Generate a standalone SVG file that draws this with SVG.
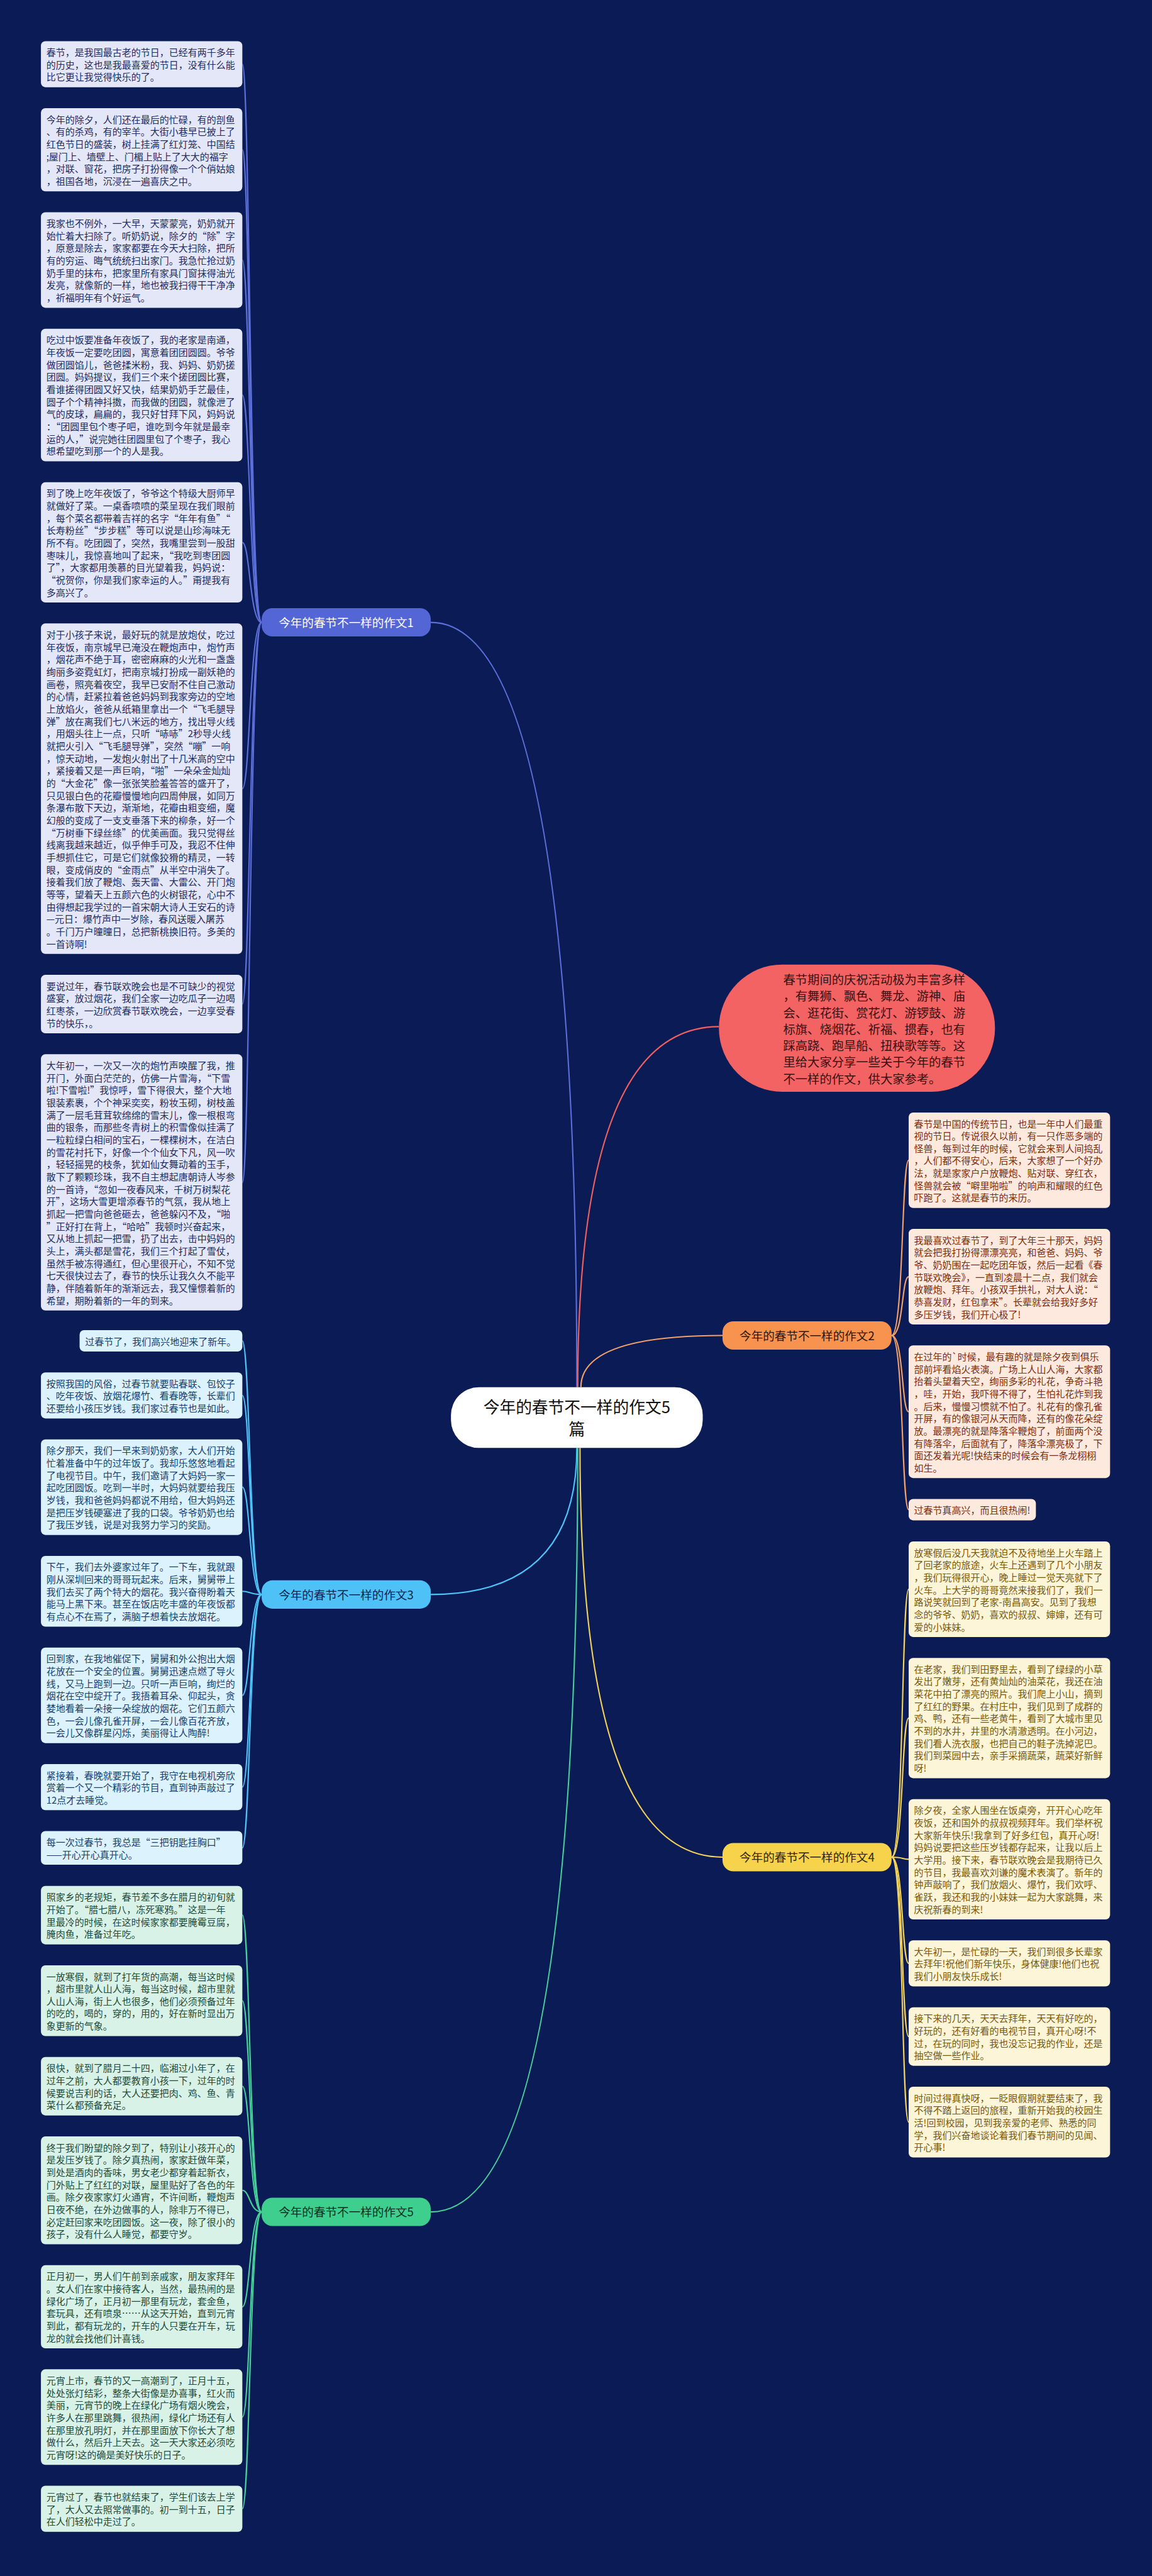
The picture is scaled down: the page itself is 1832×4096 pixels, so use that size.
<svg xmlns="http://www.w3.org/2000/svg" width="1832" height="4096" viewBox="0 0 1832 4096">
<style>
text{font-family:"Noto Sans CJK SC","Noto Sans",sans-serif}
.bx{font-size:21px}
.b1{fill:#e4e7f8}.x1{fill:#222c5e}
.b2{fill:#fde9de}.x2{fill:#7a2e10}
.b3{fill:#dcf2fc}.x3{fill:#173f6c}
.b4{fill:#fdf5d8}.x4{fill:#76580f}
.b5{fill:#d9f2e8}.x5{fill:#1d4a39}
.c{fill:none;stroke-width:3}
.lb{font-size:26px;text-anchor:middle}
</style>
<rect width="1832" height="4096" fill="#0b1b55"/>
<g transform="scale(0.715)">
<g id="connectors">
<path class="c" stroke="#5c6fd9" d="M1283 3085 Q1283 1384 958 1384"/>
<path class="c" stroke="#f25f5f" d="M1285 3085 Q1285 2283 1599 2283"/>
<path class="c" stroke="#f4a069" d="M1292 3085 Q1292 2970 1607 2970"/>
<path class="c" stroke="#4fc3f7" d="M1283 3220 Q1283 3546 958 3546"/>
<path class="c" stroke="#f3d35a" d="M1290 3220 Q1290 4130 1607 4130"/>
<path class="c" stroke="#48d09a" d="M1285 3220 Q1285 4919 958 4919"/>
<g stroke="#5c6fd9">
<path class="c" d="M582 1384 C555 1384 556 142.75 539 142.75"/>
<path class="c" d="M582 1384 C555 1384 556 333 539 333"/>
<path class="c" d="M582 1384 C555 1384 556 578.25 539 578.25"/>
<path class="c" d="M582 1384 C555 1384 556 878.5 539 878.5"/>
<path class="c" d="M582 1384 C555 1384 556 1206.25 539 1206.25"/>
<path class="c" d="M582 1384 C555 1384 556 1754 539 1754"/>
<path class="c" d="M582 1384 C555 1384 556 2233 539 2233"/>
<path class="c" d="M582 1384 C555 1384 556 2629.5 539 2629.5"/>
</g>
<g stroke="#4fc3f7">
<path class="c" d="M582 3546 C555 3546 556 2981.75 539 2981.75"/>
<path class="c" d="M582 3546 C555 3546 556 3103.25 539 3103.25"/>
<path class="c" d="M582 3546 C555 3546 556 3307.25 539 3307.25"/>
<path class="c" d="M582 3546 C555 3546 556 3538.75 539 3538.75"/>
<path class="c" d="M582 3546 C555 3546 556 3770.25 539 3770.25"/>
<path class="c" d="M582 3546 C555 3546 556 3974.25 539 3974.25"/>
<path class="c" d="M582 3546 C555 3546 556 4109.5 539 4109.5"/>
</g>
<g stroke="#48d09a">
<path class="c" d="M582 4919 C555 4919 556 4259 539 4259"/>
<path class="c" d="M582 4919 C555 4919 556 4449.25 539 4449.25"/>
<path class="c" d="M582 4919 C555 4919 556 4639.5 539 4639.5"/>
<path class="c" d="M582 4919 C555 4919 556 4871 539 4871"/>
<path class="c" d="M582 4919 C555 4919 556 5130 539 5130"/>
<path class="c" d="M582 4919 C555 4919 556 5375.25 539 5375.25"/>
<path class="c" d="M582 4919 C555 4919 556 5579.25 539 5579.25"/>
</g>
<g stroke="#f4a069">
<path class="c" d="M1983 2970 C2010 2970 2005 2580.25 2021 2580.25"/>
<path class="c" d="M1983 2970 C2010 2970 2005 2839.25 2021 2839.25"/>
<path class="c" d="M1983 2970 C2010 2970 2005 3139.5 2021 3139.5"/>
<path class="c" d="M1983 2970 C2010 2970 2005 3357.25 2021 3357.25"/>
</g>
<g stroke="#f3d35a">
<path class="c" d="M1983 4130 C2010 4130 2005 3534.25 2021 3534.25"/>
<path class="c" d="M1983 4130 C2010 4130 2005 3820.75 2021 3820.75"/>
<path class="c" d="M1983 4130 C2010 4130 2005 4134.75 2021 4134.75"/>
<path class="c" d="M1983 4130 C2010 4130 2005 4366.25 2021 4366.25"/>
<path class="c" d="M1983 4130 C2010 4130 2005 4529 2021 4529"/>
<path class="c" d="M1983 4130 C2010 4130 2005 4719.25 2021 4719.25"/>
</g>
</g>

<g id="center"><rect x="1003" y="3085" width="560" height="135" rx="62" fill="#ffffff"/>
<text x="1283" y="3143" font-size="36" text-anchor="middle" fill="#111">今年的春节不一样的作文5</text>
<text x="1283" y="3191" font-size="36" text-anchor="middle" fill="#111">篇</text></g>

<g id="intro"><rect x="1599" y="2145" width="614" height="283" rx="141" fill="#f46363"/>
<text x="1742" y="2189" font-size="27" fill="#3a0f10"><tspan x="1742" dy="0">春节期间的庆祝活动极为丰富多样</tspan><tspan x="1742" dy="36.7">，有舞狮、飘色、舞龙、游神、庙</tspan><tspan x="1742" dy="36.7">会、逛花街、赏花灯、游锣鼓、游</tspan><tspan x="1742" dy="36.7">标旗、烧烟花、祈福、掼春，也有</tspan><tspan x="1742" dy="36.7">踩高跷、跑旱船、扭秧歌等等。这</tspan><tspan x="1742" dy="36.7">里给大家分享一些关于今年的春节</tspan><tspan x="1742" dy="36.7">不一样的作文，供大家参考。</tspan></text></g>

<g id="label1"><rect x="582" y="1352.5" width="376" height="63" rx="24" fill="#5466d6"/><text class="lb" x="770" y="1394" fill="#ffffff">今年的春节不一样的作文1</text></g>
<g id="label2"><rect x="1607" y="2938.5" width="376" height="63" rx="24" fill="#f7924f"/><text class="lb" x="1795" y="2980" fill="#2b1607">今年的春节不一样的作文2</text></g>
<g id="label3"><rect x="582" y="3514.5" width="376" height="63" rx="24" fill="#4ec2f7"/><text class="lb" x="770" y="3556" fill="#0c2450">今年的春节不一样的作文3</text></g>
<g id="label4"><rect x="1607" y="4098.5" width="376" height="63" rx="24" fill="#f7d24b"/><text class="lb" x="1795" y="4140" fill="#2e2406">今年的春节不一样的作文4</text></g>
<g id="label5"><rect x="582" y="4887.5" width="376" height="63" rx="24" fill="#3ecf8e"/><text class="lb" x="770" y="4929" fill="#0b2e20">今年的春节不一样的作文5</text></g>

<g id="n1-1"><rect class="b1" x="91" y="91.5" width="448" height="102.5" rx="10"/><text class="bx x1" x="103" y="124.5"><tspan x="103" dy="0">春节，是我国最古老的节日，已经有两千多年</tspan><tspan x="103" dy="27.5">的历史，这也是我最喜爱的节日，没有什么能</tspan><tspan x="103" dy="27.5">比它更让我觉得快乐的了。</tspan></text></g>
<g id="n1-2"><rect class="b1" x="91" y="240.5" width="448" height="185" rx="10"/><text class="bx x1" x="103" y="273.5"><tspan x="103" dy="0">今年的除夕，人们还在最后的忙碌，有的剖鱼</tspan><tspan x="103" dy="27.5">、有的杀鸡，有的宰羊。大街小巷早已披上了</tspan><tspan x="103" dy="27.5">红色节日的盛装，树上挂满了红灯笼、中国结</tspan><tspan x="103" dy="27.5">;屋门上、墙壁上、门楣上贴上了大大的福字</tspan><tspan x="103" dy="27.5">，对联、窗花，把房子打扮得像一个个俏姑娘</tspan><tspan x="103" dy="27.5">，祖国各地，沉浸在一遍喜庆之中。</tspan></text></g>
<g id="n1-3"><rect class="b1" x="91" y="472" width="448" height="212.5" rx="10"/><text class="bx x1" x="103" y="505"><tspan x="103" dy="0">我家也不例外，一大早，天蒙蒙亮，奶奶就开</tspan><tspan x="103" dy="27.5">始忙着大扫除了。听奶奶说，除夕的“除”字</tspan><tspan x="103" dy="27.5">，原意是除去，家家都要在今天大扫除，把所</tspan><tspan x="103" dy="27.5">有的穷运、晦气统统扫出家门。我急忙抢过奶</tspan><tspan x="103" dy="27.5">奶手里的抹布，把家里所有家具门窗抹得油光</tspan><tspan x="103" dy="27.5">发亮，就像新的一样，地也被我扫得干干净净</tspan><tspan x="103" dy="27.5">，祈福明年有个好运气。</tspan></text></g>
<g id="n1-4"><rect class="b1" x="91" y="731" width="448" height="295" rx="10"/><text class="bx x1" x="103" y="764"><tspan x="103" dy="0">吃过中饭要准备年夜饭了，我的老家是南通，</tspan><tspan x="103" dy="27.5">年夜饭一定要吃团圆，寓意着团团圆圆。爷爷</tspan><tspan x="103" dy="27.5">做团圆馅儿，爸爸揉米粉，我、妈妈、奶奶搓</tspan><tspan x="103" dy="27.5">团圆。妈妈提议，我们三个来个搓团圆比赛，</tspan><tspan x="103" dy="27.5">看谁搓得团圆又好又快，结果奶奶手艺最佳，</tspan><tspan x="103" dy="27.5">圆子个个精神抖擞，而我做的团圆，就像泄了</tspan><tspan x="103" dy="27.5">气的皮球，扁扁的，我只好甘拜下风，妈妈说</tspan><tspan x="103" dy="27.5">：“团圆里包个枣子吧，谁吃到今年就是最幸</tspan><tspan x="103" dy="27.5">运的人，”说完她往团圆里包了个枣子，我心</tspan><tspan x="103" dy="27.5">想希望吃到那一个的人是我。</tspan></text></g>
<g id="n1-5"><rect class="b1" x="91" y="1072.5" width="448" height="267.5" rx="10"/><text class="bx x1" x="103" y="1105.5"><tspan x="103" dy="0">到了晚上吃年夜饭了，爷爷这个特级大厨师早</tspan><tspan x="103" dy="27.5">就做好了菜。一桌香喷喷的菜呈现在我们眼前</tspan><tspan x="103" dy="27.5">，每个菜名都带着吉祥的名字“年年有鱼”“</tspan><tspan x="103" dy="27.5">长寿粉丝”“步步糕”等可以说是山珍海味无</tspan><tspan x="103" dy="27.5">所不有。吃团圆了，突然，我嘴里尝到一股甜</tspan><tspan x="103" dy="27.5">枣味儿，我惊喜地叫了起来，“我吃到枣团圆</tspan><tspan x="103" dy="27.5">了”，大家都用羡慕的目光望着我，妈妈说：</tspan><tspan x="103" dy="27.5">“祝贺你，你是我们家幸运的人。”甭提我有</tspan><tspan x="103" dy="27.5">多高兴了。</tspan></text></g>
<g id="n1-6"><rect class="b1" x="91" y="1386.5" width="448" height="735" rx="10"/><text class="bx x1" x="103" y="1419.5"><tspan x="103" dy="0">对于小孩子来说，最好玩的就是放炮仗，吃过</tspan><tspan x="103" dy="27.5">年夜饭，南京城早已淹没在鞭炮声中，炮竹声</tspan><tspan x="103" dy="27.5">，烟花声不绝于耳，密密麻麻的火光和一盏盏</tspan><tspan x="103" dy="27.5">绚丽多姿霓虹灯，把南京城打扮成一副妖艳的</tspan><tspan x="103" dy="27.5">画卷，照亮着夜空，我早已安耐不住自己激动</tspan><tspan x="103" dy="27.5">的心情，赶紧拉着爸爸妈妈到我家旁边的空地</tspan><tspan x="103" dy="27.5">上放焰火，爸爸从纸箱里拿出一个“飞毛腿导</tspan><tspan x="103" dy="27.5">弹”放在离我们七八米远的地方，找出导火线</tspan><tspan x="103" dy="27.5">，用烟头往上一点，只听“哧哧”2秒导火线</tspan><tspan x="103" dy="27.5">就把火引入“飞毛腿导弹”，突然“嘣”一响</tspan><tspan x="103" dy="27.5">，惊天动地，一发炮火射出了十几米高的空中</tspan><tspan x="103" dy="27.5">，紧接着又是一声巨响，“啪”一朵朵金灿灿</tspan><tspan x="103" dy="27.5">的“大金花”像一张张笑脸羞答答的盛开了，</tspan><tspan x="103" dy="27.5">只见银白色的花瓣慢慢地向四周伸展，如同万</tspan><tspan x="103" dy="27.5">条瀑布散下天边，渐渐地，花瓣由粗变细，魔</tspan><tspan x="103" dy="27.5">幻般的变成了一支支垂落下来的柳条，好一个</tspan><tspan x="103" dy="27.5">“万树垂下绿丝绦”的优美画面。我只觉得丝</tspan><tspan x="103" dy="27.5">线离我越来越近，似乎伸手可及，我忍不住伸</tspan><tspan x="103" dy="27.5">手想抓住它，可是它们就像狡猾的精灵，一转</tspan><tspan x="103" dy="27.5">眼，变成俏皮的“金雨点”从半空中消失了。</tspan><tspan x="103" dy="27.5">接着我们放了鞭炮、轰天雷、大雷公、开门炮</tspan><tspan x="103" dy="27.5">等等，望着天上五颜六色的火树银花，心中不</tspan><tspan x="103" dy="27.5">由得想起我学过的一首宋朝大诗人王安石的诗</tspan><tspan x="103" dy="27.5">—元日：爆竹声中一岁除，春风送暖入屠苏</tspan><tspan x="103" dy="27.5">。千门万户曈曈日，总把新桃换旧符。多美的</tspan><tspan x="103" dy="27.5">一首诗啊!</tspan></text></g>
<g id="n1-7"><rect class="b1" x="91" y="2168" width="448" height="130" rx="10"/><text class="bx x1" x="103" y="2201"><tspan x="103" dy="0">要说过年，春节联欢晚会也是不可缺少的视觉</tspan><tspan x="103" dy="27.5">盛宴，放过烟花，我们全家一边吃瓜子一边喝</tspan><tspan x="103" dy="27.5">红枣茶，一边欣赏春节联欢晚会，一边享受春</tspan><tspan x="103" dy="27.5">节的快乐，。</tspan></text></g>
<g id="n1-8"><rect class="b1" x="91" y="2344.5" width="448" height="570" rx="10"/><text class="bx x1" x="103" y="2377.5"><tspan x="103" dy="0">大年初一，一次又一次的炮竹声唤醒了我，推</tspan><tspan x="103" dy="27.5">开门，外面白茫茫的，仿佛一片雪海，“下雪</tspan><tspan x="103" dy="27.5">啦!下雪啦!”我惊呼，雪下得很大，整个大地</tspan><tspan x="103" dy="27.5">银装素裹，个个神采奕奕，粉妆玉砌，树枝盖</tspan><tspan x="103" dy="27.5">满了一层毛茸茸软绵绵的雪末儿，像一根根弯</tspan><tspan x="103" dy="27.5">曲的银条，而那些冬青树上的积雪像似挂满了</tspan><tspan x="103" dy="27.5">一粒粒绿白相间的宝石，一棵棵树木，在洁白</tspan><tspan x="103" dy="27.5">的雪花衬托下，好像一个个仙女下凡，风一吹</tspan><tspan x="103" dy="27.5">，轻轻摇晃的枝条，犹如仙女舞动着的玉手，</tspan><tspan x="103" dy="27.5">散下了颗颗珍珠，我不自主想起唐朝诗人岑参</tspan><tspan x="103" dy="27.5">的一首诗，“忽如一夜春风来，千树万树梨花</tspan><tspan x="103" dy="27.5">开”，这场大雪更增添春节的气氛，我从地上</tspan><tspan x="103" dy="27.5">抓起一把雪向爸爸砸去，爸爸躲闪不及，“啪</tspan><tspan x="103" dy="27.5">”正好打在背上，“哈哈”我顿时兴奋起来，</tspan><tspan x="103" dy="27.5">又从地上抓起一把雪，扔了出去，击中妈妈的</tspan><tspan x="103" dy="27.5">头上，满头都是雪花，我们三个打起了雪仗，</tspan><tspan x="103" dy="27.5">虽然手被冻得通红，但心里很开心，不知不觉</tspan><tspan x="103" dy="27.5">七天很快过去了，春节的快乐让我久久不能平</tspan><tspan x="103" dy="27.5">静，伴随着新年的渐渐远去，我又憧憬着新的</tspan><tspan x="103" dy="27.5">希望，期盼着新的一年的到来。</tspan></text></g>

<g id="n3-1"><rect class="b3" x="177" y="2958" width="362" height="47.5" rx="10"/><text class="bx x3" x="189" y="2991">过春节了，我们高兴地迎来了新年。</text></g>
<g id="n3-2"><rect class="b3" x="91" y="3052" width="448" height="102.5" rx="10"/><text class="bx x3" x="103" y="3085"><tspan x="103" dy="0">按照我国的风俗，过春节就要贴春联、包饺子</tspan><tspan x="103" dy="27.5">、吃年夜饭、放烟花爆竹、看春晚等，长辈们</tspan><tspan x="103" dy="27.5">还要给小孩压岁钱。我们家过春节也是如此。</tspan></text></g>
<g id="n3-3"><rect class="b3" x="91" y="3201" width="448" height="212.5" rx="10"/><text class="bx x3" x="103" y="3234"><tspan x="103" dy="0">除夕那天，我们一早来到奶奶家，大人们开始</tspan><tspan x="103" dy="27.5">忙着准备中午的过年饭了。我却乐悠悠地看起</tspan><tspan x="103" dy="27.5">了电视节目。中午，我们邀请了大妈妈一家一</tspan><tspan x="103" dy="27.5">起吃团圆饭。吃到一半时，大妈妈就要给我压</tspan><tspan x="103" dy="27.5">岁钱，我和爸爸妈妈都说不用给，但大妈妈还</tspan><tspan x="103" dy="27.5">是把压岁钱硬塞进了我的口袋。爷爷奶奶也给</tspan><tspan x="103" dy="27.5">了我压岁钱，说是对我努力学习的奖励。</tspan></text></g>
<g id="n3-4"><rect class="b3" x="91" y="3460" width="448" height="157.5" rx="10"/><text class="bx x3" x="103" y="3493"><tspan x="103" dy="0">下午，我们去外婆家过年了。一下车，我就跟</tspan><tspan x="103" dy="27.5">刚从深圳回来的哥哥玩起来。后来，舅舅带上</tspan><tspan x="103" dy="27.5">我们去买了两个特大的烟花。我兴奋得盼着天</tspan><tspan x="103" dy="27.5">能马上黑下来。甚至在饭店吃丰盛的年夜饭都</tspan><tspan x="103" dy="27.5">有点心不在焉了，满脑子想着快去放烟花。</tspan></text></g>
<g id="n3-5"><rect class="b3" x="91" y="3664" width="448" height="212.5" rx="10"/><text class="bx x3" x="103" y="3697"><tspan x="103" dy="0">回到家，在我地催促下，舅舅和外公抱出大烟</tspan><tspan x="103" dy="27.5">花放在一个安全的位置。舅舅迅速点燃了导火</tspan><tspan x="103" dy="27.5">线，又马上跑到一边。只听一声巨响，绚烂的</tspan><tspan x="103" dy="27.5">烟花在空中绽开了。我捂着耳朵、仰起头，贪</tspan><tspan x="103" dy="27.5">婪地看着一朵接一朵绽放的烟花。它们五颜六</tspan><tspan x="103" dy="27.5">色，一会儿像孔雀开屏，一会儿像百花齐放，</tspan><tspan x="103" dy="27.5">一会儿又像群星闪烁，美丽得让人陶醉!</tspan></text></g>
<g id="n3-6"><rect class="b3" x="91" y="3923" width="448" height="102.5" rx="10"/><text class="bx x3" x="103" y="3956"><tspan x="103" dy="0">紧接着，春晚就要开始了，我守在电视机旁欣</tspan><tspan x="103" dy="27.5">赏着一个又一个精彩的节目，直到钟声敲过了</tspan><tspan x="103" dy="27.5">12点才去睡觉。</tspan></text></g>
<g id="n3-7"><rect class="b3" x="91" y="4072" width="448" height="75" rx="10"/><text class="bx x3" x="103" y="4105"><tspan x="103" dy="0">每一次过春节，我总是“三把钥匙挂胸口”</tspan><tspan x="103" dy="27.5">——开心开心真开心。</tspan></text></g>

<g id="n5-1"><rect class="b5" x="91" y="4194" width="448" height="130" rx="10"/><text class="bx x5" x="103" y="4227"><tspan x="103" dy="0">照家乡的老规矩，春节差不多在腊月的初旬就</tspan><tspan x="103" dy="27.5">开始了。“腊七腊八，冻死寒鸦。”这是一年</tspan><tspan x="103" dy="27.5">里最冷的时候，在这时候家家都要腌霉豆腐，</tspan><tspan x="103" dy="27.5">腌肉鱼，准备过年吃。</tspan></text></g>
<g id="n5-2"><rect class="b5" x="91" y="4370.5" width="448" height="157.5" rx="10"/><text class="bx x5" x="103" y="4403.5"><tspan x="103" dy="0">一放寒假，就到了打年货的高潮，每当这时候</tspan><tspan x="103" dy="27.5">，超市里就人山人海，每当这时候，超市里就</tspan><tspan x="103" dy="27.5">人山人海，街上人也很多，他们必须预备过年</tspan><tspan x="103" dy="27.5">的吃的，喝的，穿的，用的，好在新时显出万</tspan><tspan x="103" dy="27.5">象更新的气象。</tspan></text></g>
<g id="n5-3"><rect class="b5" x="91" y="4574.5" width="448" height="130" rx="10"/><text class="bx x5" x="103" y="4607.5"><tspan x="103" dy="0">很快，就到了腊月二十四，临湘过小年了，在</tspan><tspan x="103" dy="27.5">过年之前，大人都要教育小孩一下，过年的时</tspan><tspan x="103" dy="27.5">候要说吉利的话，大人还要把肉、鸡、鱼、青</tspan><tspan x="103" dy="27.5">菜什么都预备充足。</tspan></text></g>
<g id="n5-4"><rect class="b5" x="91" y="4751" width="448" height="240" rx="10"/><text class="bx x5" x="103" y="4784"><tspan x="103" dy="0">终于我们盼望的除夕到了，特别让小孩开心的</tspan><tspan x="103" dy="27.5">是发压岁钱了。除夕真热闹，家家赶做年菜，</tspan><tspan x="103" dy="27.5">到处是酒肉的香味，男女老少都穿着起新衣，</tspan><tspan x="103" dy="27.5">门外贴上了红红的对联，屋里贴好了各色的年</tspan><tspan x="103" dy="27.5">画。除夕夜家家灯火通宵，不许间断，鞭炮声</tspan><tspan x="103" dy="27.5">日夜不绝，在外边做事的人，除非万不得已，</tspan><tspan x="103" dy="27.5">必定赶回家来吃团圆饭。这一夜，除了很小的</tspan><tspan x="103" dy="27.5">孩子，没有什么人睡觉，都要守岁。</tspan></text></g>
<g id="n5-5"><rect class="b5" x="91" y="5037.5" width="448" height="185" rx="10"/><text class="bx x5" x="103" y="5070.5"><tspan x="103" dy="0">正月初一，男人们午前到亲戚家，朋友家拜年</tspan><tspan x="103" dy="27.5">。女人们在家中接待客人，当然，最热闹的是</tspan><tspan x="103" dy="27.5">绿化广场了，正月初一那里有玩龙，套金鱼，</tspan><tspan x="103" dy="27.5">套玩具，还有喷泉……从这天开始，直到元宵</tspan><tspan x="103" dy="27.5">到此，都有玩龙的，开车的人只要在开车，玩</tspan><tspan x="103" dy="27.5">龙的就会找他们计喜钱。</tspan></text></g>
<g id="n5-6"><rect class="b5" x="91" y="5269" width="448" height="212.5" rx="10"/><text class="bx x5" x="103" y="5302"><tspan x="103" dy="0">元宵上市，春节的又一高潮到了，正月十五，</tspan><tspan x="103" dy="27.5">处处张灯结彩，整条大街像是办喜事，红火而</tspan><tspan x="103" dy="27.5">美丽，元宵节的晚上在绿化广场有烟火晚会，</tspan><tspan x="103" dy="27.5">许多人在那里跳舞，很热闹，绿化广场还有人</tspan><tspan x="103" dy="27.5">在那里放孔明灯，并在那里面放下你长大了想</tspan><tspan x="103" dy="27.5">做什么，然后升上天去。这一天大家还必须吃</tspan><tspan x="103" dy="27.5">元宵呀!这的确是美好快乐的日子。</tspan></text></g>
<g id="n5-7"><rect class="b5" x="91" y="5528" width="448" height="102.5" rx="10"/><text class="bx x5" x="103" y="5561"><tspan x="103" dy="0">元宵过了，春节也就结束了，学生们该去上学</tspan><tspan x="103" dy="27.5">了，大人又去照常做事的。初一到十五，日子</tspan><tspan x="103" dy="27.5">在人们轻松中走过了。</tspan></text></g>

<g id="n2-1"><rect class="b2" x="2021" y="2474" width="448" height="212.5" rx="10"/><text class="bx x2" x="2033" y="2507"><tspan x="2033" dy="0">春节是中国的传统节日，也是一年中人们最重</tspan><tspan x="2033" dy="27.5">视的节日。传说很久以前，有一只作恶多端的</tspan><tspan x="2033" dy="27.5">怪兽，每到过年的时候，它就会来到人间捣乱</tspan><tspan x="2033" dy="27.5">，人们都不得安心，后来，大家想了一个好办</tspan><tspan x="2033" dy="27.5">法，就是家家户户放鞭炮、贴对联、穿红衣，</tspan><tspan x="2033" dy="27.5">怪兽就会被“噼里啪啦”的响声和耀眼的红色</tspan><tspan x="2033" dy="27.5">吓跑了。这就是春节的来历。</tspan></text></g>
<g id="n2-2"><rect class="b2" x="2021" y="2733" width="448" height="212.5" rx="10"/><text class="bx x2" x="2033" y="2766"><tspan x="2033" dy="0">我最喜欢过春节了，到了大年三十那天，妈妈</tspan><tspan x="2033" dy="27.5">就会把我打扮得漂漂亮亮，和爸爸、妈妈、爷</tspan><tspan x="2033" dy="27.5">爷、奶奶围在一起吃团年饭，然后一起看《春</tspan><tspan x="2033" dy="27.5">节联欢晚会》，一直到凌晨十二点，我们就会</tspan><tspan x="2033" dy="27.5">放鞭炮、拜年。小孩双手拱礼，对大人说：“</tspan><tspan x="2033" dy="27.5">恭喜发财，红包拿来”。长辈就会给我好多好</tspan><tspan x="2033" dy="27.5">多压岁钱，我们开心极了!</tspan></text></g>
<g id="n2-3"><rect class="b2" x="2021" y="2992" width="448" height="295" rx="10"/><text class="bx x2" x="2033" y="3025"><tspan x="2033" dy="0">在过年的`时候，最有趣的就是除夕夜到俱乐</tspan><tspan x="2033" dy="27.5">部前坪看焰火表演。广场上人山人海，大家都</tspan><tspan x="2033" dy="27.5">抬着头望着天空，绚丽多彩的礼花，争奇斗艳</tspan><tspan x="2033" dy="27.5">，哇，开始，我吓得不得了，生怕礼花炸到我</tspan><tspan x="2033" dy="27.5">。后来，慢慢习惯就不怕了。礼花有的像孔雀</tspan><tspan x="2033" dy="27.5">开屏，有的像银河从天而降，还有的像花朵绽</tspan><tspan x="2033" dy="27.5">放。最漂亮的就是降落伞鞭炮了，前面两个没</tspan><tspan x="2033" dy="27.5">有降落伞，后面就有了，降落伞漂亮极了，下</tspan><tspan x="2033" dy="27.5">面还发着光呢!快结束的时候会有一条龙栩栩</tspan><tspan x="2033" dy="27.5">如生。</tspan></text></g>
<g id="n2-4"><rect class="b2" x="2021" y="3333.5" width="283" height="47.5" rx="10"/><text class="bx x2" x="2033" y="3366.5">过春节真高兴，而且很热闹!</text></g>

<g id="n4-1"><rect class="b4" x="2021" y="3428" width="448" height="212.5" rx="10"/><text class="bx x4" x="2033" y="3461"><tspan x="2033" dy="0">放寒假后没几天我就迫不及待地坐上火车踏上</tspan><tspan x="2033" dy="27.5">了回老家的旅途，火车上还遇到了几个小朋友</tspan><tspan x="2033" dy="27.5">，我们玩得很开心，晚上睡过一觉天亮就下了</tspan><tspan x="2033" dy="27.5">火车。上大学的哥哥竟然来接我们了，我们一</tspan><tspan x="2033" dy="27.5">路说笑就回到了老家-南昌高安。见到了我想</tspan><tspan x="2033" dy="27.5">念的爷爷、奶奶，喜欢的叔叔、婶婶，还有可</tspan><tspan x="2033" dy="27.5">爱的小妹妹。</tspan></text></g>
<g id="n4-2"><rect class="b4" x="2021" y="3687" width="448" height="267.5" rx="10"/><text class="bx x4" x="2033" y="3720"><tspan x="2033" dy="0">在老家，我们到田野里去，看到了绿绿的小草</tspan><tspan x="2033" dy="27.5">发出了嫩芽，还有黄灿灿的油菜花，我还在油</tspan><tspan x="2033" dy="27.5">菜花中拍了漂亮的照片。我们爬上小山，摘到</tspan><tspan x="2033" dy="27.5">了红红的野果。在村庄中，我们见到了成群的</tspan><tspan x="2033" dy="27.5">鸡、鸭，还有一些老黄牛，看到了大城市里见</tspan><tspan x="2033" dy="27.5">不到的水井，井里的水清澈透明。在小河边，</tspan><tspan x="2033" dy="27.5">我们看人洗衣服，也把自己的鞋子洗掉泥巴。</tspan><tspan x="2033" dy="27.5">我们到菜园中去，亲手采摘蔬菜，蔬菜好新鲜</tspan><tspan x="2033" dy="27.5">呀!</tspan></text></g>
<g id="n4-3"><rect class="b4" x="2021" y="4001" width="448" height="267.5" rx="10"/><text class="bx x4" x="2033" y="4034"><tspan x="2033" dy="0">除夕夜，全家人围坐在饭桌旁，开开心心吃年</tspan><tspan x="2033" dy="27.5">夜饭，还和国外的叔叔视频拜年。我们举杯祝</tspan><tspan x="2033" dy="27.5">大家新年快乐!我拿到了好多红包，真开心呀!</tspan><tspan x="2033" dy="27.5">妈妈说要把这些压岁钱都存起来，让我以后上</tspan><tspan x="2033" dy="27.5">大学用。接下来，春节联欢晚会是我期待已久</tspan><tspan x="2033" dy="27.5">的节目，我最喜欢刘谦的魔术表演了。新年的</tspan><tspan x="2033" dy="27.5">钟声敲响了，我们放烟火、爆竹，我们欢呼、</tspan><tspan x="2033" dy="27.5">雀跃，我还和我的小妹妹一起为大家跳舞，来</tspan><tspan x="2033" dy="27.5">庆祝新春的到来!</tspan></text></g>
<g id="n4-4"><rect class="b4" x="2021" y="4315" width="448" height="102.5" rx="10"/><text class="bx x4" x="2033" y="4348"><tspan x="2033" dy="0">大年初一，是忙碌的一天，我们到很多长辈家</tspan><tspan x="2033" dy="27.5">去拜年!祝他们新年快乐，身体健康!他们也祝</tspan><tspan x="2033" dy="27.5">我们小朋友快乐成长!</tspan></text></g>
<g id="n4-5"><rect class="b4" x="2021" y="4464" width="448" height="130" rx="10"/><text class="bx x4" x="2033" y="4497"><tspan x="2033" dy="0">接下来的几天，天天去拜年，天天有好吃的，</tspan><tspan x="2033" dy="27.5">好玩的，还有好看的电视节目，真开心呀!不</tspan><tspan x="2033" dy="27.5">过，在玩的同时，我也没忘记我的作业，还是</tspan><tspan x="2033" dy="27.5">抽空做一些作业。</tspan></text></g>
<g id="n4-6"><rect class="b4" x="2021" y="4640.5" width="448" height="157.5" rx="10"/><text class="bx x4" x="2033" y="4673.5"><tspan x="2033" dy="0">时间过得真快呀，一眨眼假期就要结束了，我</tspan><tspan x="2033" dy="27.5">不得不踏上返回的旅程，重新开始我的校园生</tspan><tspan x="2033" dy="27.5">活!回到校园，见到我亲爱的老师、熟悉的同</tspan><tspan x="2033" dy="27.5">学，我们兴奋地谈论着我们春节期间的见闻、</tspan><tspan x="2033" dy="27.5">开心事!</tspan></text></g>
</g>
</svg>
